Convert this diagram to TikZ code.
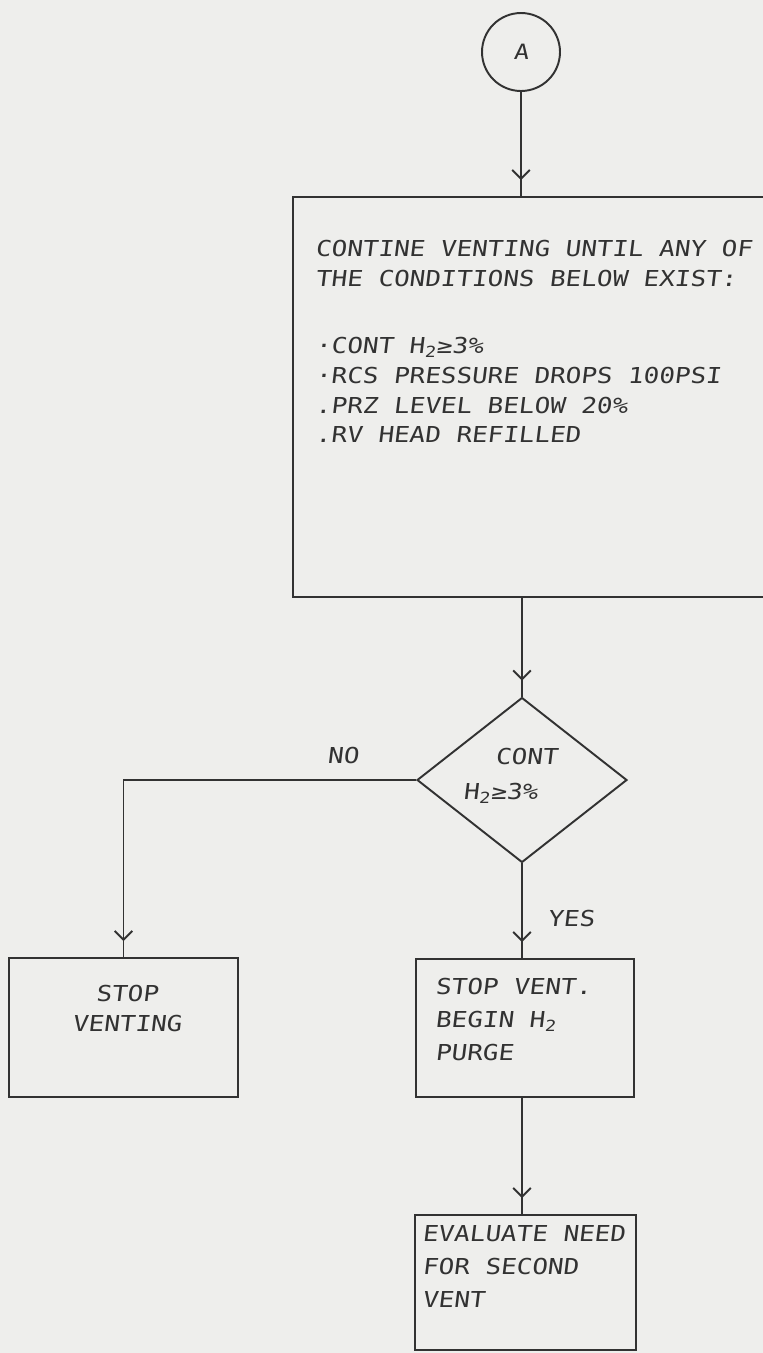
\documentclass[tikz,border=0pt]{standalone}
\usepackage{fontspec}
\newfontfamily\hand[FakeStretch=1.18,FakeSlant=0.12]{DejaVu Sans Mono}
\usetikzlibrary{shapes.geometric,arrows.meta,decorations.markings}
\definecolor{paper}{RGB}{238,238,236}
\definecolor{ink}{RGB}{50,50,50}
\tikzset{
  box/.style={draw=ink, line width=1.1pt, inner sep=0pt},
  txt/.style={inner sep=0pt, text=ink, font=\hand\fontsize{12.5}{17}\selectfont, align=left},
  flow/.style={draw=ink, line width=1.1pt, postaction={decorate},
    decoration={markings, mark=at position -0.32cm with {\arrow{Straight Barb[length=5pt,width=10pt]}}}},
}
\begin{document}
\begin{tikzpicture}[x=0.02cm,y=-0.02cm]
    % paper
    \fill[paper] (0,0) rectangle (763,1353);
    \useasboundingbox (0,0) rectangle (763,1353);

    % connector A
    \node[box, circle, minimum size=1.56cm, text=ink, font=\hand\fontsize{12}{14}\selectfont] (conA) at (521,52) {A};

    % main box
    \node[box, minimum width=9.54cm, minimum height=8cm] (cont) at (531.5,397) {};
    \node[txt, anchor=north west] (conttext) at (315,240)
        {CONTINE VENTING UNTIL ANY OF\\
         THE CONDITIONS BELOW EXIST:\\[0.74cm]
         ·CONT H\textsubscript{2}≥3\%\\
         ·RCS PRESSURE DROPS 100PSI\\
         .PRZ LEVEL BELOW 20\%\\
         .RV HEAD REFILLED};

    % decision
    \node[box, diamond, minimum width=4.2cm, minimum height=3.3cm] (dec) at (522,780) {};
    \node[txt, anchor=north west] (dectext) at (463,748)
        {\hspace*{0.64cm}CONT\\[0.1cm]H\textsubscript{2}≥3\%};
    \node[txt] (no) at (343,755) {NO};
    \node[txt] (yes) at (571,918) {YES};

    % outcomes
    \node[box, minimum width=4.58cm, minimum height=2.78cm] (stop) at (123.5,1027.5) {};
    \node[txt, anchor=north, align=center] (stoptext) at (127,985) {STOP\\VENTING};

    \node[box, minimum width=4.36cm, minimum height=2.76cm] (purge) at (525,1028) {};
    \node[txt, anchor=north west] (purgetext) at (435,978)
        {STOP VENT.\\[0.06cm]BEGIN H\textsubscript{2}\\[0.06cm]PURGE};

    \node[box, minimum width=4.42cm, minimum height=2.7cm] (eval) at (525.5,1282.5) {};
    \node[txt, anchor=north west] (evaltext) at (422,1225)
        {EVALUATE NEED\\[0.06cm]FOR SECOND\\[0.06cm]VENT};

    % flow lines
    \draw[flow] (conA.south) -- (conA.south |- cont.north);
    \draw[flow] (dec.north |- cont.south) -- (dec.north);
    \draw[flow] (dec.west) -| (stop.north);
    \draw[flow] (dec.south) -- (dec.south |- purge.north);
    \draw[flow] (dec.south |- purge.south) -- (dec.south |- eval.north);
\end{tikzpicture}
\end{document}
